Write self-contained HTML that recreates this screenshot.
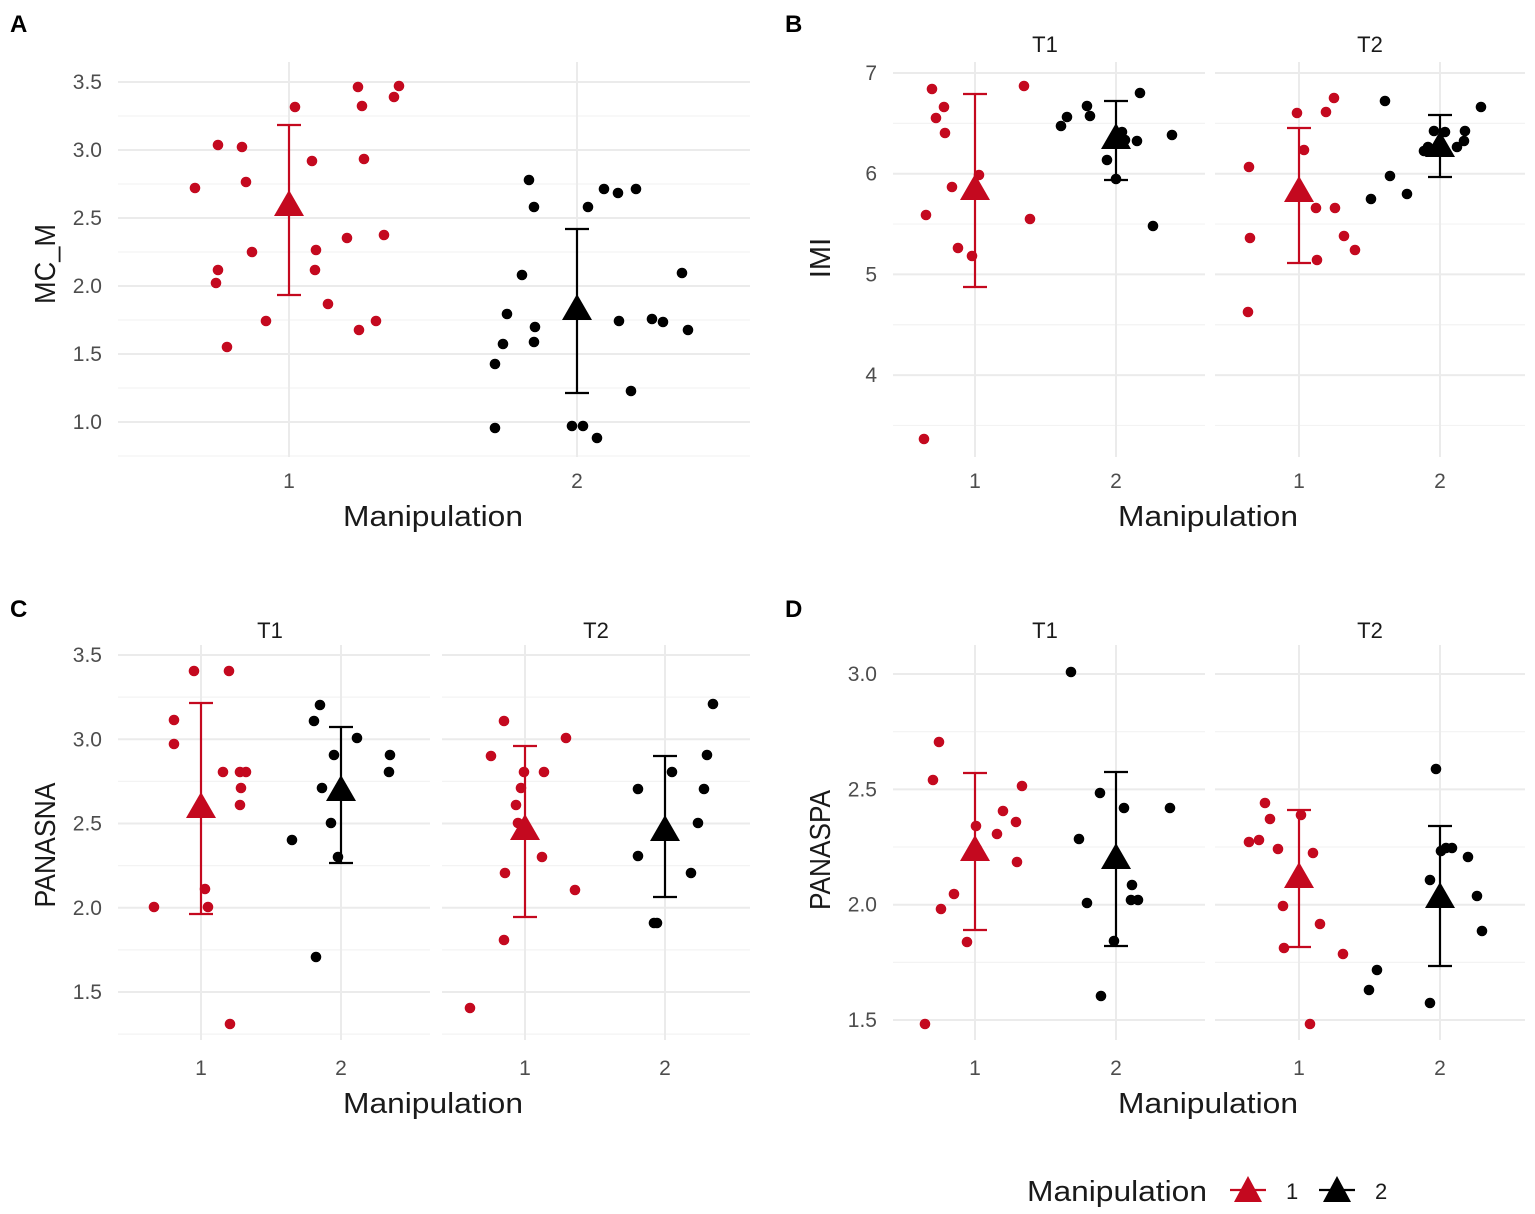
<!DOCTYPE html>
<html><head><meta charset="utf-8"><style>
html,body{margin:0;padding:0;background:#fff;}
svg{display:block;font-family:"Liberation Sans",sans-serif;}
</style></head><body>
<svg id="s" width="1535" height="1214" xmlns="http://www.w3.org/2000/svg"></svg>
<script>
const s=document.getElementById('s');let h='';
const RED='#c4091f',BLK='#000';
function grid(x0,x1,y0,y1,yt,xt){
  for(let i=0;i<yt.length;i++){h+=`<line x1="${x0}" x2="${x1}" y1="${yt[i][0]}" y2="${yt[i][0]}" stroke="#ebebeb" stroke-width="2"/>`;
    if(i<yt.length-1){const m=(yt[i][0]+yt[i+1][0])/2;h+=`<line x1="${x0}" x2="${x1}" y1="${m}" y2="${m}" stroke="#f3f3f3" stroke-width="1.2"/>`;}}
  const d=(yt[1][0]-yt[0][0])/2;
  if(yt[0][0]-d>y0)h+=`<line x1="${x0}" x2="${x1}" y1="${yt[0][0]-d}" y2="${yt[0][0]-d}" stroke="#f3f3f3" stroke-width="1.2"/>`;
  const l=yt[yt.length-1][0];if(l+d<y1)h+=`<line x1="${x0}" x2="${x1}" y1="${l+d}" y2="${l+d}" stroke="#f3f3f3" stroke-width="1.2"/>`;
  xt.forEach(x=>{h+=`<line x1="${x}" x2="${x}" y1="${y0}" y2="${y1}" stroke="#ebebeb" stroke-width="2"/>`;});
}
function yl(x,yt){yt.forEach(t=>{h+=`<text x="${x}" y="${t[0]+7}" text-anchor="end" font-size="21" fill="#4d4d4d">${t[1]}</text>`;});}
function xl(y,xt){xt.forEach((x,i)=>{h+=`<text x="${x}" y="${y}" text-anchor="middle" font-size="21" fill="#4d4d4d">${i%2+1}</text>`;});}
function pts(a,c){a.forEach(p=>{h+=`<circle cx="${p[0]}" cy="${p[1]}" r="5.3" fill="${c}"/>`;});}
function tri(x,y,c,sz=15){h+=`<polygon points="${x-sz},${y+12} ${x+sz},${y+12} ${x},${y-14}" fill="${c}"/>`;}
function mean(x,y,t,b,c){h+=`<line x1="${x}" x2="${x}" y1="${t}" y2="${b}" stroke="${c}" stroke-width="2.2"/><line x1="${x-12}" x2="${x+12}" y1="${t}" y2="${t}" stroke="${c}" stroke-width="2.2"/><line x1="${x-12}" x2="${x+12}" y1="${b}" y2="${b}" stroke="${c}" stroke-width="2.2"/>`;tri(x,y,c);}
function title(x,y,t,rot,len){const tl=len?` textLength="${len}" lengthAdjust="spacingAndGlyphs"`:'';h+=rot?`<text transform="translate(${x},${y}) rotate(-90)" text-anchor="middle" font-size="29" fill="#1a1a1a"${tl}>${t}</text>`:`<text x="${x}" y="${y}" text-anchor="middle" font-size="29" fill="#1a1a1a"${tl}>${t}</text>`;}
function strip(x,y,t){h+=`<text x="${x}" y="${y}" text-anchor="middle" font-size="22" fill="#1a1a1a">${t}</text>`;}
function letter(x,y,t){h+=`<text x="${x}" y="${y}" font-size="24" font-weight="bold" fill="#000">${t}</text>`;}
// A
let ytA=[];[3.5,3.0,2.5,2.0,1.5,1.0].forEach(v=>ytA.push([82+(3.5-v)*136,v.toFixed(1)]));
grid(118,750,62,457,ytA,[289,577]);yl(102,ytA);xl(488,[289,577]);
pts([[195,188],[218,145],[242,147],[246,182],[252,252],[218,270],[216,283],[227,347],[266,321],[295,107],[312,161],[316,250],[315,270],[328,304],[347,238],[358,87],[362,106],[364,159],[359,330],[376,321],[384,235],[394,97],[399,86]],RED);
pts([[495,428],[495,364],[503,344],[507,314],[522,275],[529,180],[534,207],[535,327],[534,342],[572,426],[583,426],[597,438],[588,207],[604,189],[618,193],[636,189],[619,321],[631,391],[652,319],[663,322],[682,273],[688,330]],BLK);
mean(289,204,125,295,RED);mean(577,308,229,393,BLK);
title(55,264,'MC_M',1,80);title(433,526,'Manipulation',0,180);letter(10,32,'A');
// B
let ytB=[];[7,6,5,4].forEach(v=>ytB.push([73+(7-v)*100.7,v]));
grid(893,1205,62,457,ytB,[975,1116]);grid(1215,1525,62,457,ytB,[1299,1440]);yl(877,ytB);xl(488,[975,1116,1299,1440]);
strip(1045,52,'T1');strip(1370,52,'T2');
pts([[936,118],[932,89],[926,215],[952,187],[945,133],[944,107],[979,175],[958,248],[972,256],[1024,86],[1030,219],[924,439]],RED);
pts([[1061,126],[1067,117],[1087,106],[1090,116],[1107,160],[1116,179],[1122,132],[1125,140],[1137,141],[1140,93],[1172,135],[1153,226]],BLK);
pts([[1249,167],[1250,238],[1248,312],[1297,113],[1304,150],[1316,208],[1317,260],[1326,112],[1334,98],[1335,208],[1344,236],[1355,250]],RED);
pts([[1385,101],[1371,199],[1390,176],[1407,194],[1424,151],[1428,147],[1434,131],[1445,132],[1457,147],[1464,141],[1465,131],[1481,107]],BLK);
mean(975,188,94,287,RED);mean(1116,137,101,180,BLK);mean(1299,190,128,263,RED);mean(1440,145,115,177,BLK);
title(830,258,'IMI',1);title(1208,526,'Manipulation',0,180);letter(785,32,'B');
// C
let ytC=[];[3.5,3.0,2.5,2.0,1.5].forEach(v=>ytC.push([655+(3.5-v)*168.5,v.toFixed(1)]));
grid(118,430,645,1040,ytC,[201,341]);grid(442,750,645,1040,ytC,[525,665]);yl(102,ytC);xl(1075,[201,341,525,665]);
strip(270,638,'T1');strip(596,638,'T2');
pts([[154,907],[174,720],[174,744],[194,671],[205,889],[208,907],[229,671],[230,1024],[223,772],[240,772],[241,788],[246,772],[240,805]],RED);
pts([[292,840],[316,957],[314,721],[320,705],[322,788],[334,755],[331,823],[338,857],[357,738],[390,755],[389,772]],BLK);
pts([[470,1008],[491,756],[504,721],[505,873],[504,940],[516,805],[518,823],[521,788],[524,772],[542,857],[544,772],[566,738],[575,890]],RED);
pts([[638,856],[638,789],[654,923],[657,923],[672,772],[691,873],[698,823],[704,789],[707,755],[713,704]],BLK);
mean(201,806,703,914,RED);mean(341,789,727,863,BLK);mean(525,828,746,917,RED);mean(665,829,756,897,BLK);
title(55,845,'PANASNA',1,125);title(433,1113,'Manipulation',0,180);letter(10,617,'C');
// D
let ytD=[];[3.0,2.5,2.0,1.5].forEach(v=>ytD.push([674+(3-v)*230.7,v.toFixed(1)]));
grid(893,1205,645,1040,ytD,[975,1116]);grid(1215,1525,645,1040,ytD,[1299,1440]);yl(877,ytD);xl(1075,[975,1116,1299,1440]);
strip(1045,638,'T1');strip(1370,638,'T2');
pts([[925,1024],[933,780],[939,742],[941,909],[954,894],[967,942],[976,826],[977,849],[997,834],[1003,811],[1016,822],[1017,862],[1022,786]],RED);
pts([[1071,672],[1079,839],[1087,903],[1100,793],[1101,996],[1114,941],[1124,808],[1132,885],[1131,900],[1138,900],[1170,808]],BLK);
pts([[1249,842],[1259,840],[1265,803],[1270,819],[1278,849],[1283,906],[1284,948],[1301,815],[1310,1024],[1313,853],[1320,924],[1343,954]],RED);
pts([[1369,990],[1377,970],[1430,1003],[1430,880],[1436,769],[1441,851],[1446,848],[1452,848],[1468,857],[1477,896],[1482,931]],BLK);
mean(975,849,773,930,RED);mean(1116,857,772,946,BLK);mean(1299,876,810,947,RED);mean(1440,896,826,966,BLK);
title(830,850,'PANASPA',1,120);title(1208,1113,'Manipulation',0,180);letter(785,617,'D');
// legend
h+=`<text x="1027" y="1201" font-size="29" fill="#1a1a1a" textLength="180" lengthAdjust="spacingAndGlyphs">Manipulation</text>`;
h+=`<line x1="1230" x2="1266" y1="1190" y2="1190" stroke="${RED}" stroke-width="2.2"/>`;tri(1248,1190,RED,14);
h+=`<line x1="1319" x2="1355" y1="1190" y2="1190" stroke="#000" stroke-width="2.2"/>`;tri(1337,1190,BLK,14);
h+=`<text x="1286" y="1199" font-size="22" fill="#1a1a1a">1</text><text x="1375" y="1199" font-size="22" fill="#1a1a1a">2</text>`;
s.innerHTML=h;
</script>
</body></html>
